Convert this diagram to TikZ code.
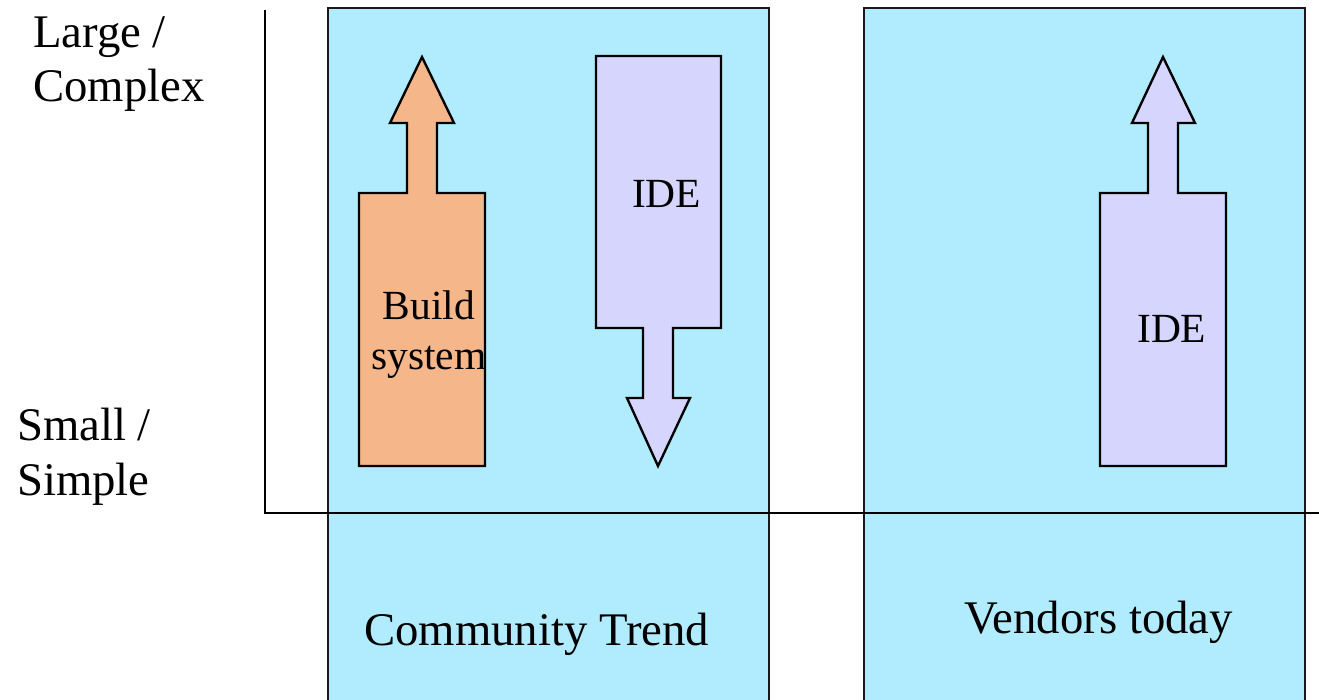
\documentclass[tikz,border=0pt]{standalone}
\usepackage{fontspec}
\setmainfont{Liberation Serif}
\usetikzlibrary{calc}
\definecolor{panelcyan}{HTML}{B0ECFD}
\definecolor{buildorange}{HTML}{F5B68A}
\definecolor{idelilac}{HTML}{D5D5FE}
\tikzset{
  panel/.style={draw=black!90, fill=panelcyan},
  blockarrow/.style={draw=black, line join=miter},
  lbl/.style={anchor=base west, inner sep=0pt, font=\fontsize{26.6}{31.3}\selectfont},
  arrowlbl/.style={inner sep=0pt, align=center, font=\fontsize{23.6}{28.5}\selectfont}
}
\begin{document}
\begin{tikzpicture}[x=0.02cm,y=-0.02cm,line width=1.35pt]
\useasboundingbox (0,0) rectangle (1319,700);

\begin{scope}
\clip (0,0) rectangle (1319,700);
\draw[panel] (328,8) rectangle (769,720);
\draw[panel] (864,8) rectangle (1305,720);
\end{scope}

% axes
\coordinate (o) at (265,513);
\draw (265,10) -- (o) -- (1319,513);

% build system: up
\draw[blockarrow, fill=buildorange] (359,466) -- (359,193) -- (407,193) -- (407,123) -- (390,123)
  -- (422,57) -- (454,123) -- (437,123) -- (437,193) -- (485,193) -- (485,466) -- cycle;
\node[arrowlbl] (build) at (429,335) {Build\\system};

% IDE: down
\draw[blockarrow, fill=idelilac] (596,56) -- (721,56) -- (721,328) -- (673,328) -- (673,398) -- (690,398)
  -- (658,466) -- (627,398) -- (643,398) -- (643,328) -- (596,328) -- cycle;
\node[lbl, font=\fontsize{23.6}{28.5}\selectfont] (ide1) at (631,207) {IDE};

% IDE: up
\draw[blockarrow, fill=idelilac] (1100,466) -- (1100,193) -- (1148,193) -- (1148,123) -- (1132,123)
  -- (1163,57) -- (1195,123) -- (1178,123) -- (1178,193) -- (1226,193) -- (1226,466) -- cycle;
\node[lbl, font=\fontsize{23.6}{28.5}\selectfont] (ide2) at (1136,342) {IDE};

% scale labels
\node[lbl] (large) at (32,47) {Large /};
\node[lbl] (complex) at (32,101) {Complex};
\node[lbl] (small) at (16,440) {Small /};
\node[lbl] (simple) at (16,495) {Simple};

\node[lbl] (community) at (363,645) {Community Trend};
\node[lbl] (vendors) at (963,633) {Vendors today};

\end{tikzpicture}
\end{document}
